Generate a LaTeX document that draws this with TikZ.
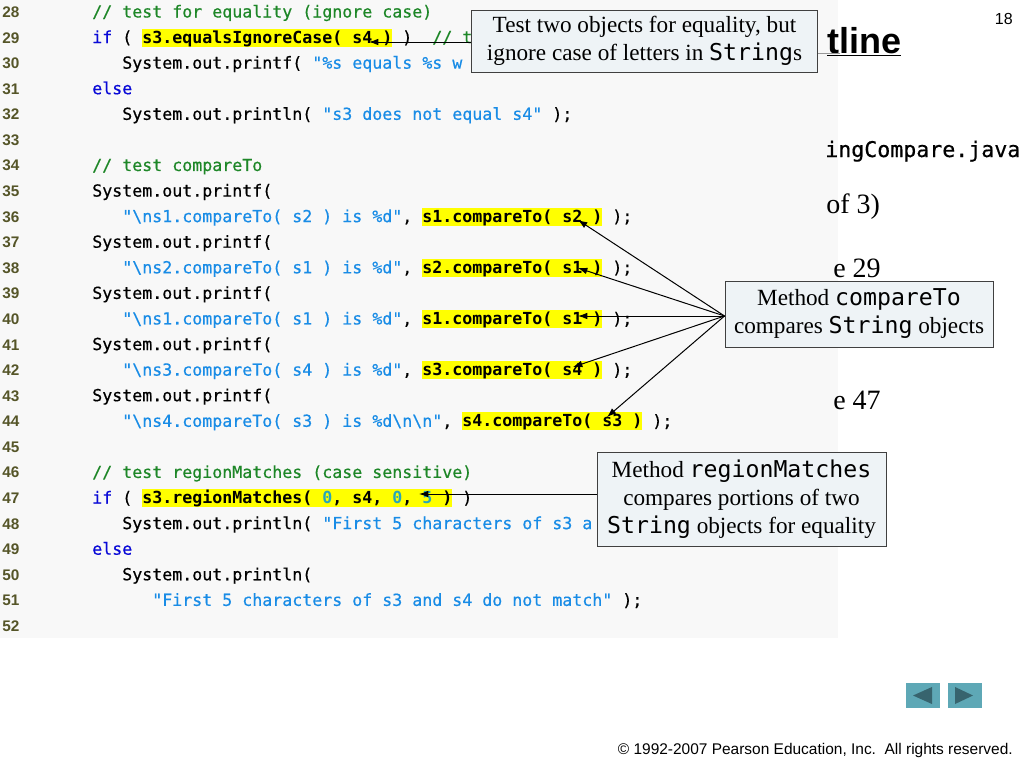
\documentclass[tikz,border=0pt]{standalone}
\usepackage{fontspec}
\setmainfont{Liberation Serif}
\setsansfont{Liberation Sans}
\setmonofont[FakeBold=0.5, BoldFont={DejaVu Sans Mono Bold}, BoldFeatures={FakeBold=0}]{DejaVu Sans Mono}
\newfontfamily\plainmono{DejaVu Sans Mono}
\usepackage{color}
\definecolor{panelgray}{RGB}{248,248,248}
\definecolor{kwblue}{RGB}{10,10,215}
\definecolor{cmtgreen}{RGB}{30,135,40}
\definecolor{strblue}{RGB}{25,140,230}
\definecolor{numcyan}{RGB}{40,165,185}
\definecolor{linenum}{RGB}{85,85,40}
\definecolor{hlyellow}{RGB}{255,255,0}
\definecolor{calloutfill}{RGB}{238,243,246}
\definecolor{navteal}{RGB}{94,168,182}
\definecolor{navdark}{RGB}{55,100,110}
\usepackage{tikz}
\usetikzlibrary{arrows.meta}
\newcommand{\kw}[1]{\textcolor{kwblue}{#1}}
\newcommand{\cmt}[1]{\textcolor{cmtgreen}{#1}}
\newcommand{\strlit}[1]{\textcolor{strblue}{#1}}
\newcommand{\numlit}[1]{\textcolor{numcyan}{#1}}
\newcommand{\hilite}[1]{{\setlength{\fboxsep}{0pt}\colorbox{hlyellow}{\rule[-1.2pt]{0pt}{12pt}\bfseries #1}}}
\newcommand{\bs}{\textbackslash}
\newcommand{\jname}[1]{{\plainmono #1}}
\newcommand{\lineheight}{25.58}
\newcommand{\codey}[1]{17.5+(#1-28)*\lineheight}
\tikzset{
    code/.style={anchor=base west, inner sep=0pt, font=\ttfamily\frenchspacing\fontsize{12.46pt}{14pt}\selectfont},
    lineno/.style={anchor=base west, inner sep=0pt, text=linenum, font=\sffamily\bfseries\fontsize{11.5pt}{13pt}\selectfont},
    callout/.style={draw=black!75, fill=calloutfill, line width=0.75pt, align=center, inner sep=0pt, font=\fontsize{17.4pt}{21pt}\selectfont},
    pointer/.style={-{Latex[length=7pt,width=5pt]}, line width=0.75pt},
    peek/.style={anchor=base west, inner sep=0pt},
    navbtn/.style={fill=navteal, minimum width=25.5pt, minimum height=19pt, inner sep=0pt}
}

\begin{document}
\begin{tikzpicture}[x=0.75pt, y=-0.75pt]
\useasboundingbox (0,0) rectangle (1024,768);
\fill[panelgray] (0,0) rectangle (838,638);
\foreach \n in {28,...,52}
    \node[lineno] (n\n) at (2,{\codey{\n}}) {\n};
\node[code] (c28) at (92,{\codey{28}}) {\cmt{// test for equality (ignore case)}};
\node[code] (c29) at (92,{\codey{29}}) {\kw{if} ( \hilite{s3.equalsIgnoreCase( s4 )} )~ \cmt{// t}};
\node[code] (c30) at (122,{\codey{30}}) {System.out.printf( \strlit{"\%s equals \%s w}};
\node[code] (c31) at (92,{\codey{31}}) {\kw{else}};
\node[code] (c32) at (122,{\codey{32}}) {System.out.println( \strlit{"s3 does not equal s4"} );};
\node[code] (c34) at (92,{\codey{34}}) {\cmt{// test compareTo}};
\node[code] (c35) at (92,{\codey{35}}) {System.out.printf(};
\node[code] (c36) at (122,{\codey{36}}) {\strlit{"\bs ns1.compareTo( s2 ) is \%d"}, \hilite{s1.compareTo( s2 )} );};
\node[code] (c37) at (92,{\codey{37}}) {System.out.printf(};
\node[code] (c38) at (122,{\codey{38}}) {\strlit{"\bs ns2.compareTo( s1 ) is \%d"}, \hilite{s2.compareTo( s1 )} );};
\node[code] (c39) at (92,{\codey{39}}) {System.out.printf(};
\node[code] (c40) at (122,{\codey{40}}) {\strlit{"\bs ns1.compareTo( s1 ) is \%d"}, \hilite{s1.compareTo( s1 )} );};
\node[code] (c41) at (92,{\codey{41}}) {System.out.printf(};
\node[code] (c42) at (122,{\codey{42}}) {\strlit{"\bs ns3.compareTo( s4 ) is \%d"}, \hilite{s3.compareTo( s4 )} );};
\node[code] (c43) at (92,{\codey{43}}) {System.out.printf(};
\node[code] (c44) at (122,{\codey{44}}) {\strlit{"\bs ns4.compareTo( s3 ) is \%d\bs n\bs n"}, \hilite{s4.compareTo( s3 )} );};
\node[code] (c46) at (92,{\codey{46}}) {\cmt{// test regionMatches (case sensitive)}};
\node[code] (c47) at (92,{\codey{47}}) {\kw{if} ( \hilite{s3.regionMatches( \numlit{0}, s4, \numlit{0}, \numlit{5} )} )};
\node[code] (c48) at (122,{\codey{48}}) {System.out.println( \strlit{"First 5 characters of s3 a}};
\node[code] (c49) at (92,{\codey{49}}) {\kw{else}};
\node[code] (c50) at (122,{\codey{50}}) {System.out.println(};
\node[code] (c51) at (152,{\codey{51}}) {\strlit{"First 5 characters of s3 and s4 do not match"} );};

% what shows of the outline column
\node[peek, font=\sffamily\bfseries\fontsize{27pt}{30pt}\selectfont] (outl) at (827,53) {\underline{tline}};
\node[peek, font=\ttfamily\fontsize{16.2pt}{18pt}\selectfont] (fname) at (825,157) {ingCompare.java};
\node[peek, font=\fontsize{21pt}{24pt}\selectfont] (partof) at (826,213) {of 3)};
\node[peek, font=\fontsize{21pt}{24pt}\selectfont] (ref29) at (833,277) {e 29};
\node[peek, font=\fontsize{21pt}{24pt}\selectfont] (ref47) at (833,409) {e 47};

\node[callout, minimum width=260pt, minimum height=46.5pt] (eqbox) at (644.5,41)
    {Test two objects for equality, but\\ignore case of letters in \jname{String}s};
\node[callout, minimum width=201pt, minimum height=49.5pt] (cmpbox) at (859,314)
    {Method \jname{compareTo}\\compares \jname{String} objects};
\node[callout, minimum width=216.75pt, minimum height=70.5pt] (rgnbox) at (741.5,499)
    {Method \jname{regionMatches}\\compares portions of two\\\jname{String} objects for equality};

\coordinate (t29) at (369,42);
\coordinate (t36) at (578,220);
\coordinate (t38) at (578,268);
\coordinate (t40) at (578,316);
\coordinate (t42) at (573,367);
\coordinate (t44) at (607,417);
\coordinate (t47) at (419,494);
\coordinate (tail) at (840,53);
\draw[pointer] (eqbox.west |- t29) -- (t29);
\foreach \t in {t36,t38,t40,t42,t44}
    \draw[pointer] (cmpbox.west |- t40) -- (\t);
\draw[pointer] (rgnbox.west |- t47) -- (t47);
\draw[black!40, line width=0.75pt] (eqbox.east |- tail) -- (tail);

\node[navbtn] (navprev) at (923,695.5) {};
\node[navbtn] (navnext) at (965,695.5) {};
\fill[navdark] ([xshift=-7.5pt]navprev.center) -- ([xshift=6.75pt,yshift=6.4pt]navprev.center) -- ([xshift=6.75pt,yshift=-6.4pt]navprev.center) -- cycle;
\fill[navdark] ([xshift=6pt]navnext.center) -- ([xshift=-7.5pt,yshift=6.4pt]navnext.center) -- ([xshift=-7.5pt,yshift=-6.4pt]navnext.center) -- cycle;

\node[anchor=base east, inner sep=0pt, font=\sffamily\fontsize{12pt}{14pt}\selectfont] (pageno) at (1013,24) {18};
\node[anchor=base east, inner sep=0pt, font=\sffamily\fontsize{11.6pt}{14pt}\selectfont] (copy) at (1013,754) {© 1992-2007 Pearson Education, Inc.~~All rights reserved.};
\end{tikzpicture}
\end{document}
